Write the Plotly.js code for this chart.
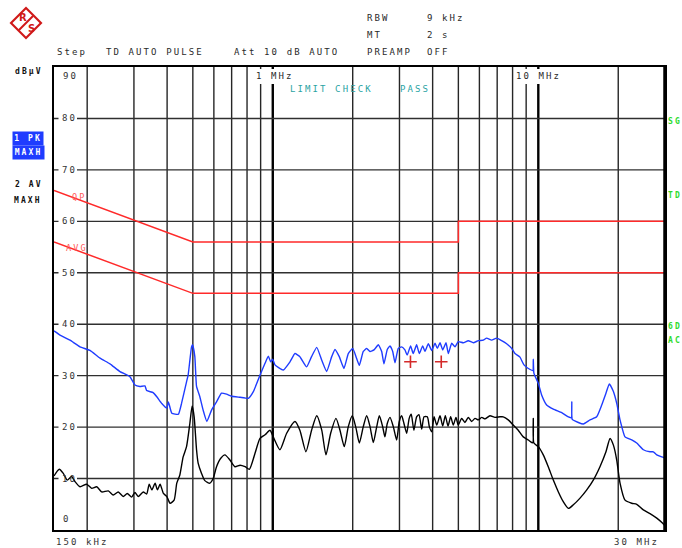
<!DOCTYPE html>
<html><head><meta charset="utf-8">
<script src="https://cdn.plot.ly/plotly-3.0.1.min.js"></script>
<style>
html,body{margin:0;padding:0;background:#fff;}
#chart{width:682px;height:548px;}
.annotation-text{letter-spacing:2.1px;}
</style></head><body><div id="chart"></div>
<script>
// ---------- data (frequency in MHz, level in dBµV) ----------
const blueF = [0.150,0.158,0.1723,0.188,0.2049,0.2235,0.2437,0.2657,0.2898,0.3026,
0.316,0.330,0.335,0.3543,0.3658,0.382,0.399,0.4045,0.4166,0.441,
0.4533,0.4734,0.480,0.4944,0.4987,0.5087,0.5163,0.5313,0.5467,0.5647,
0.588,0.614,0.641,0.670,0.700,0.753,0.809,0.845,0.895,0.935,
0.962,0.982,0.999,1.019,1.095,1.161,1.212,1.265,1.341,1.400,
1.464,1.529,1.596,1.667,1.715,1.780,1.854,1.925,2.000,2.058,
2.118,2.192,2.258,2.324,2.406,2.498,2.571,2.623,2.699,2.764,
2.829,2.886,2.969,3.058,3.145,3.208,3.304,3.379,3.481,3.563,
3.669,3.744,3.853,3.969,4.084,4.167,4.265,4.365,4.492,4.583,
4.718,4.855,4.996,5.217,5.448,5.691,5.943,6.206,6.389,6.671,
6.970,7.276,7.598,7.938,8.168,8.530,8.830,9.312,9.541,9.574,
9.624,10.0,10.30,10.75,11.39,12.25,12.98,13.32,13.37,13.42,
14.15,14.78,15.66,16.59,17.33,17.98,18.51,19.18,19.74,20.31,
21.21,22.48,23.48,24.87,26.34,27.12,27.93,29.15,30.0];
const blueDb = [38.7,37.9,36.9,35.6,34.9,33.4,32.3,30.8,29.8,28.2,
27.9,28.0,27.1,26.7,25.9,24.6,23.7,24.9,22.7,22.5,
24.6,28.8,30.1,35.6,36.0,33.7,27.9,25.9,23.3,21.1,
23.3,24.9,26.6,26.4,26.0,25.8,25.6,26.9,30.1,32.4,
33.8,32.7,33.2,32.1,31.1,32.7,34.3,33.7,31.7,33.7,
35.5,33.0,30.8,33.7,35.1,33.7,31.4,34.3,35.3,33.7,
32.0,34.7,35.3,34.7,35.0,36.0,34.7,32.3,35.1,35.8,
34.7,32.5,35.3,35.6,35.0,34.0,35.8,34.3,36.0,34.3,
35.8,34.7,36.2,34.9,36.3,35.3,36.4,35.0,36.4,34.3,
36.3,35.6,36.6,36.4,36.8,36.4,36.8,36.9,37.3,36.9,
37.3,36.8,36.2,35.3,34.3,33.6,32.1,31.2,31.0,33.2,
30.5,28.5,26.2,24.3,23.5,22.8,22.0,21.8,24.9,21.5,
20.9,20.6,21.4,22.0,24.3,26.6,28.4,26.9,24.6,21.4,
18.1,17.5,16.9,15.6,15.2,15.2,14.6,14.2,14.0];

const blackF = [0.150,0.157,0.1626,0.1683,0.1749,0.180,0.188,0.1991,0.208,0.2172,
0.2268,0.2402,0.2508,0.2618,0.2734,0.2831,0.2941,0.3026,0.3114,0.3252,
0.335,0.3425,0.3503,0.3605,0.3677,0.3764,0.3874,0.399,0.4105,0.425,
0.435,0.4467,0.4597,0.4734,0.4872,0.4970,0.5057,0.5163,0.5235,0.5392,
0.5548,0.5795,0.5964,0.614,0.6359,0.6605,0.6898,0.7203,0.753,0.7862,
0.8162,0.8573,0.895,0.935,0.976,1.004,1.064,1.128,1.212,1.265,
1.333,1.400,1.464,1.529,1.586,1.652,1.730,1.791,1.859,1.925,
1.993,2.058,2.118,2.192,2.258,2.324,2.392,2.463,2.520,2.593,
2.645,2.699,2.764,2.844,2.928,2.995,3.058,3.119,3.193,3.264,
3.322,3.400,3.481,3.553,3.638,3.712,3.820,3.887,3.969,4.049,
4.145,4.265,4.365,4.465,4.571,4.677,4.784,4.897,4.996,5.145,
5.294,5.448,5.611,5.776,5.943,6.121,6.299,6.574,6.868,7.172,
7.377,7.705,8.049,8.404,8.777,9.165,9.451,9.541,9.574,9.624,
10.0,10.44,10.90,11.39,11.90,12.42,12.98,13.55,14.36,15.22,
16.11,17.07,17.98,18.63,19.18,19.74,20.31,21.21,22.48,23.48,
24.87,26.34,27.93,29.41,30.0];
const blackDb = [10.5,11.8,11.0,9.7,10.4,9.4,8.4,8.9,8.1,8.4,
7.4,7.6,6.8,7.4,6.5,7.1,6.4,7.3,6.5,7.4,
7.0,8.9,7.8,9.1,7.8,8.9,7.1,6.5,5.2,5.8,
9.1,10.7,14.2,16.2,20.7,24.1,22.0,15.6,13.0,11.0,
9.6,9.1,10.0,12.3,13.9,14.6,13.6,12.3,12.6,12.3,
11.8,14.9,17.8,18.5,19.4,18.1,15.6,18.8,21.1,19.4,
15.2,19.4,22.2,19.4,14.6,18.8,21.7,19.4,16.2,20.1,
22.2,19.8,16.9,20.1,22.2,20.1,17.0,20.1,22.2,20.1,
18.1,20.7,21.9,20.1,17.5,21.1,22.2,20.7,18.8,21.7,
22.5,19.4,22.0,22.4,19.6,22.0,22.0,20.1,19.1,22.0,
20.4,22.2,20.2,22.2,20.2,22.0,20.4,21.9,20.4,21.7,
20.9,21.9,21.1,21.7,21.4,21.9,21.6,22.2,21.9,22.0,
22.0,21.4,20.4,19.4,18.1,17.5,17.0,17.0,21.7,16.9,
16.2,14.6,12.3,9.7,7.4,5.5,4.2,4.9,6.2,7.8,
9.7,12.3,15.2,17.8,16.5,13.6,9.1,5.8,5.2,5.0,
3.9,3.2,2.3,1.3,0.8];

const qpF = [0.15,0.5,5,5,30];
const qpDb = [66,56,56,60,60];
const avF = [0.15,0.5,5,5,30];
const avDb = [56,46,46,50,50];

const markF = [3.30,4.31];
const markDb = [32.7,32.7];

const gridFreqs = [0.2,0.3,0.4,0.5,0.6,0.7,0.8,0.9,1,2,3,4,5,6,7,8,9,10,20];
const majorFreqs = [1,10];
const gridLevels = [10,20,30,40,50,60,70,80];
const levelLabels = ['10','20','30','40','50','60','70','80'];

// ---------- layout helpers ----------
const L=54,R=665,T=67,B=530;
const pw=R-L, ph=B-T;
function px(x){return (x-L)/pw;}
function py(y){return (B-y)/ph;}
const MONO='DejaVu Sans Mono';
function txt(text,x,y,o){
  o=o||{};
  return Object.assign({text:text,xref:'paper',yref:'paper',x:px(x),y:py(y),
    xanchor:'left',yanchor:'middle',align:'left',showarrow:false,borderpad:0,
    font:{family:MONO,size:o.size||9,color:o.color||'#2a2a2a',weight:o.weight||'normal'}},o.extra||{});
}

const shapes=[];
// vertical grid (shapes on a log axis take data values)
gridFreqs.forEach(f=>{
  const major=majorFreqs.indexOf(f)>=0;
  shapes.push({type:'line',xref:'x',yref:'paper',x0:f,x1:f,y0:0,y1:1,
    layer:'below',line:{color:major?'#000':'#262626',width:major?2.4:1.4}});
});
// horizontal grid
gridLevels.forEach(v=>{
  shapes.push({type:'line',xref:'paper',yref:'y',x0:0,x1:1,y0:v,y1:v,layer:'below',
    line:{color:'#303030',width:1.4}});
});
// white gaps behind labels
gridLevels.forEach(v=>{
  shapes.push({type:'rect',xref:'paper',yref:'y',x0:px(58.5),x1:px(77),y0:v-0.7,y1:v+0.7,layer:'below',
    fillcolor:'#fff',line:{width:0}});
});
shapes.push({type:'rect',xref:'paper',yref:'paper',x0:px(257),x1:px(293),y0:py(84),y1:py(69),layer:'below',fillcolor:'#fff',line:{width:0}});
shapes.push({type:'rect',xref:'paper',yref:'paper',x0:px(517),x1:px(563),y0:py(84),y1:py(69),layer:'below',fillcolor:'#fff',line:{width:0}});
// thick right border
shapes.push({type:'line',xref:'paper',yref:'paper',x0:px(665),x1:px(665),y0:py(531),y1:py(66),layer:'above',line:{color:'#000',width:3.5}});
// R&S logo
function P(x,y){return px(x)+','+py(y);}
const cx=26,cy=23;
function diamond(h){return 'M'+P(cx,cy-h)+' L'+P(cx+h,cy)+' L'+P(cx,cy+h)+' L'+P(cx-h,cy)+' Z';}
shapes.push({type:'path',xref:'paper',yref:'paper',path:diamond(16.5),fillcolor:'#d01818',line:{width:0},layer:'above'});
shapes.push({type:'path',xref:'paper',yref:'paper',path:diamond(13.5),fillcolor:'#ffffff',line:{width:0},layer:'above'});
shapes.push({type:'line',xref:'paper',yref:'paper',x0:px(cx+7),y0:py(cy-7),x1:px(cx-7),y1:py(cy+7),line:{color:'#d01818',width:2},layer:'above'});

const ann=[];
ann.push(Object.assign(txt('R',cx-8,cy-6),{font:{family:'DejaVu Sans',size:10,color:'#d01818',weight:'bold'}}));
ann.push(Object.assign(txt('S',cx+1,cy+6),{font:{family:'DejaVu Sans',size:10,color:'#d01818',weight:'bold'}}));
// header
ann.push(txt('RBW',366,18));
ann.push(txt('9 kHz',426,18));
ann.push(txt('MT',366,35));
ann.push(txt('2 s',426,35));
ann.push(txt('Step',56,52));
ann.push(txt('TD AUTO PULSE',105,52));
ann.push(txt('Att 10 dB AUTO',233,52));
ann.push(txt('PREAMP',366,52));
ann.push(txt('OFF',426,52));
// left panel
ann.push(txt('dBµV',14,72,{size:8,weight:'bold',color:'#111'}));
ann.push(txt('1 PK',27.5,138,{size:8,weight:'bold',color:'#fff',extra:{xanchor:'center',align:'center',bgcolor:'#1f3cff',width:30,height:13}}));
ann.push(txt('MAXH',28,152.5,{size:8,weight:'bold',color:'#fff',extra:{xanchor:'center',align:'center',bgcolor:'#1f3cff',width:31,height:13}}));
ann.push(txt('2 AV',14,185,{size:8,weight:'bold',color:'#111'}));
ann.push(txt('MAXH',13,200,{size:8,weight:'bold',color:'#111'}));
// y labels
ann.push(txt('90',62,76,{color:'#333'}));
gridLevels.forEach((v,i)=>{
  ann.push(Object.assign(txt(levelLabels[i],61,0,{color:'#333'}),{yref:'y',y:v}));
});
ann.push(txt('0',62,519,{color:'#333'}));
// x labels
ann.push(txt('1 MHz',255,76));
ann.push(txt('10 MHz',515,76));
ann.push(txt('150 kHz',55,542,{color:'#333'}));
ann.push(txt('30 MHz',613,542,{color:'#333'}));
// limit check
ann.push(txt('LIMIT CHECK',289,89,{color:'#2aa3a3',size:9}));
ann.push(txt('PASS',399,89,{color:'#2aa3a3',size:9}));
// limit line labels
ann.push(txt('QP',71,197,{color:'#ff5a5a',size:8.5}));
ann.push(txt('AVG',65,248,{color:'#ff5a5a',size:8.5}));
// right side
ann.push(txt('SG',667,121,{color:'#2edb2e',size:8,weight:'bold'}));
ann.push(txt('TD',667,195,{color:'#2edb2e',size:8,weight:'bold'}));
ann.push(txt('6D',667,326,{color:'#2edb2e',size:8,weight:'bold'}));
ann.push(txt('AC',667,341,{color:'#2edb2e',size:8,weight:'bold'}));

const traces=[
  {x:qpF,y:qpDb,mode:'lines',line:{color:'#ff2a2a',width:1.5},hoverinfo:'skip'},
  {x:avF,y:avDb,mode:'lines',line:{color:'#ff2a2a',width:1.5},hoverinfo:'skip'},
  {x:blackF,y:blackDb,mode:'lines',line:{color:'#000',width:1.4,shape:'spline',smoothing:0.6},hoverinfo:'skip'},
  {x:blueF,y:blueDb,mode:'lines',line:{color:'#1f3cff',width:1.4,shape:'spline',smoothing:0.4},hoverinfo:'skip'},
  {x:markF,y:markDb,mode:'markers',marker:{symbol:'cross-thin',size:9,line:{color:'#d42a2a',width:1.6}},hoverinfo:'skip'}
];

const axisBase={showgrid:false,zeroline:false,showticklabels:false,ticks:'',showline:true,mirror:true,
  linecolor:'#000',linewidth:2,fixedrange:true};
const layout={
  width:682,height:548,
  margin:{l:L,r:682-R,t:T,b:548-B,pad:0},
  paper_bgcolor:'#fff',plot_bgcolor:'#fff',
  showlegend:false,
  xaxis:Object.assign({type:'log',range:[Math.log10(0.15),Math.log10(30)]},axisBase),
  yaxis:Object.assign({range:[0,90]},axisBase),
  shapes:shapes,
  annotations:ann
};
Plotly.newPlot('chart',traces,layout,{staticPlot:true,displayModeBar:false});
</script></body></html>
